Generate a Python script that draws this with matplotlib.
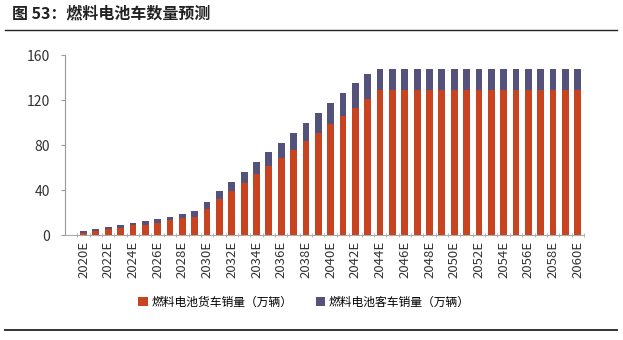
import matplotlib.pyplot as plt
import numpy as np

plt.rcParams['font.family'] = ['Noto Sans CJK SC', 'DejaVu Sans']

# === DATA ===
years = [f'{y}E' for y in range(2020, 2061)]
trucks = [2.2, 3.8, 5.0, 6.5, 8.7, 9.3, 11.1, 13.1, 15.0, 16.3,
          23.4, 32.0, 39.0, 46.5, 53.9, 61.6, 68.7, 76.0, 83.5, 91.0,
          98.7, 105.8, 113.2, 120.6] + [129.0] * 17
buses = [1.6, 1.7, 2.4, 2.7, 2.3, 3.4, 3.5, 3.3, 3.5, 4.7,
         6.2, 6.8, 8.0, 9.8, 10.7, 11.9, 13.3, 15.0, 15.8, 17.7,
         18.3, 20.2, 22.2, 22.8] + [18.3] * 17
series_names = ['燃料电池货车销量（万辆）', '燃料电池客车销量（万辆）']
yticks = [0, 40, 80, 120, 160]

red = '#C8431F'
navy = '#54527A'

fig = plt.figure(figsize=(6.23, 3.40), dpi=100, facecolor='white')
ax = fig.add_axes([0.1043, 0.3088, 0.833, 0.5294])

x = np.arange(len(years))
ax.bar(x, trucks, width=0.55, color=red, label=series_names[0], zorder=2)
ax.bar(x, buses, width=0.55, bottom=trucks, color=navy, label=series_names[1], zorder=2)

ax.set_xlim(-1.5, len(years) - 0.5)
ax.set_ylim(0, 160)
ax.set_yticks(yticks)
ax.set_yticklabels([str(t) for t in yticks], fontsize=10, color='#333333')
ax.set_xticks(x[::2])
ax.set_xticklabels(years[::2], rotation=90, fontsize=9.5, color='#333333')
ax.tick_params(axis='x', length=0, pad=4)
ax.tick_params(axis='y', length=3, color='#999999', pad=8)
ax.set_xticks(np.arange(-0.5, len(years), 1), minor=True)
ax.tick_params(axis='x', which='minor', length=3, direction='inout', color='#aaaaaa')

for s in ['top', 'right']:
    ax.spines[s].set_visible(False)
ax.spines['left'].set_color('#999999')
ax.spines['bottom'].set_color('#aaaaaa')
ax.spines['left'].set_linewidth(0.8)
ax.spines['bottom'].set_linewidth(0.8)

# title and rules
fig.text(0.019, 0.962, '图 53：燃料电池车数量预测', fontsize=11.5, fontweight='bold',
         color='#222222', va='center', ha='left')
fig.add_artist(plt.Line2D([0.008, 0.99], [0.912, 0.912], color='#222222', linewidth=1.0))
fig.add_artist(plt.Line2D([0.008, 0.99], [0.03, 0.03], color='#333333', linewidth=1.4))

fig.legend(loc='center', bbox_to_anchor=(0.488, 0.112), ncol=2, frameon=False,
           fontsize=8.5, handlelength=0.8, handleheight=0.8, handletextpad=0.3,
           columnspacing=2.0)

fig.savefig('out.png', dpi=100, facecolor='white')
